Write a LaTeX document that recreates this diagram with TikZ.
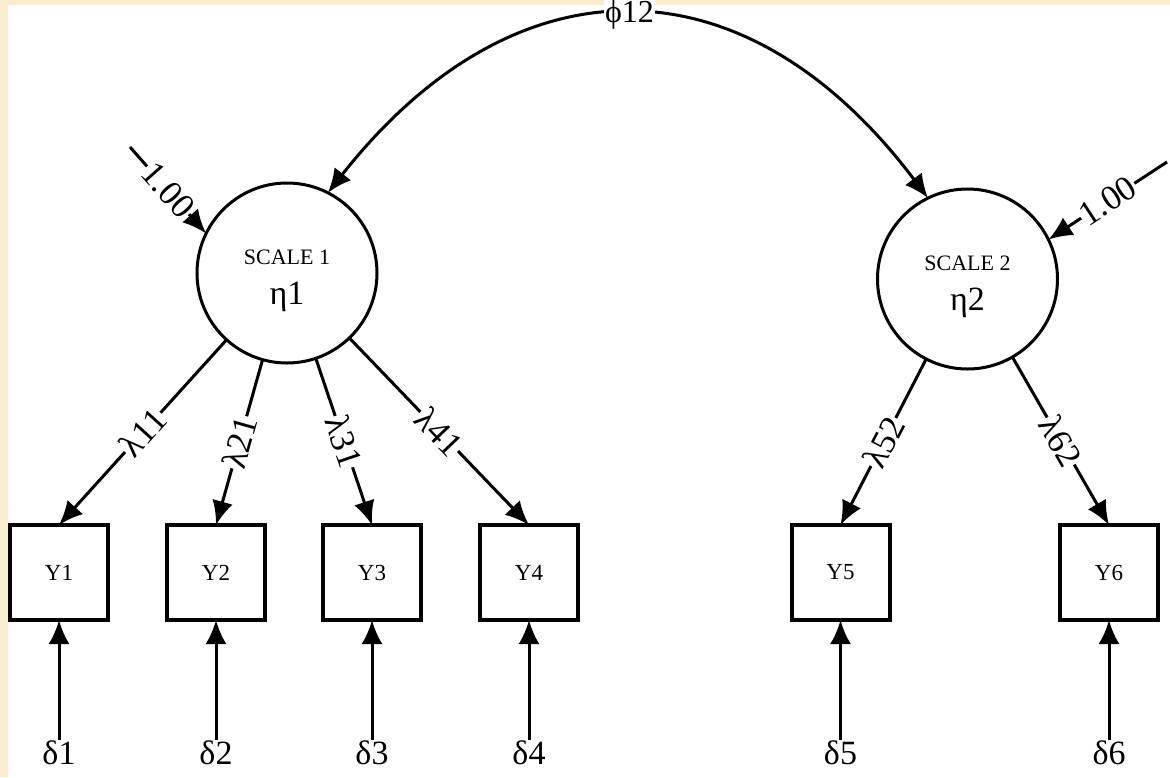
\documentclass[tikz,border=0pt]{standalone}
\usepackage{fontspec}
\setmainfont{Liberation Serif}
\usetikzlibrary{arrows.meta}
\definecolor{paper}{RGB}{250,236,206}
\begin{document}
\begin{tikzpicture}[x=1pt,y=-1pt,
  tip/.style={-{Latex[length=24pt,width=21pt]}},
  arr/.style={line width=3pt,tip},
  latent/.style={circle,draw,line width=3pt,minimum size=180pt,inner sep=0pt,outer sep=0pt},
  obs/.style={rectangle,draw,line width=4pt,minimum width=98pt,minimum height=95pt,inner sep=0pt,outer sep=0pt,font=\fontsize{23}{26}\selectfont},
  lbl/.style={midway,sloped,fill=white,inner sep=1pt,font=\fontsize{35}{38}\selectfont},
  errlbl/.style={font=\fontsize{34}{36}\selectfont,inner sep=1pt,anchor=north},
  scl/.style={font=\fontsize{22}{24}\selectfont,inner sep=0pt},
  eta/.style={font=\fontsize{34}{36}\selectfont,inner sep=0pt}
]
\useasboundingbox (0,0) rectangle (1170,777);
\fill[paper] (0,0) rectangle (1170,777);
\fill[white] (8,5) rectangle (1170,777);

% latent variables
\node[latent] (eta1) at (287,273) {};
\node[latent] (eta2) at (967.5,279) {};
\node[scl] (s1) at (287,257) {SCALE 1};
\node[eta] (h1) at (287,297) {η1};
\node[scl] (s2) at (967.5,263) {SCALE 2};
\node[eta] (h2) at (967.5,303) {η2};

% observed variables
\node[obs] (y1) at (59,572.5) {Y1};
\node[obs] (y2) at (216,572.5) {Y2};
\node[obs] (y3) at (372,572.5) {Y3};
\node[obs] (y4) at (529,572.5) {Y4};
\node[obs] (y5) at (840.5,572.5) {Y5};
\node[obs] (y6) at (1109,572.5) {Y6};

% error terms
\node[errlbl] (d1) at (59,740) {δ1};
\node[errlbl] (d2) at (216,740) {δ2};
\node[errlbl] (d3) at (372,740) {δ3};
\node[errlbl] (d4) at (529,740) {δ4};
\node[errlbl] (d5) at (840.5,740) {δ5};
\node[errlbl] (d6) at (1109,740) {δ6};

\foreach \i in {1,...,6}{
  \draw[arr] (d\i.north) -- (y\i.south);
}

% loadings
\draw[arr] (eta1) -- (y1.north) node[lbl] (l11) {λ11};
\draw[arr] (eta1) -- (y2.north) node[lbl] (l21) {λ21};
\draw[arr] (eta1) -- (y3.north) node[lbl] (l31) {λ31};
\draw[arr] (eta1) -- (y4.north) node[lbl] (l41) {λ41};
\draw[arr] (eta2) -- (y5.north) node[lbl] (l52) {λ52};
\draw[arr] (eta2) -- (y6.north) node[lbl] (l62) {λ62};

% disturbance paths
\coordinate (z1) at (130,147);
\coordinate (z2) at (1167,162);
\draw[arr] (z1) -- (eta1.154) node[lbl] (v1) {1.00};
\draw[arr] (z2) -- (eta2.26) node[lbl] (v2) {1.00};

% covariance
\draw[line width=3pt,{Latex[length=24pt,width=21pt]}-{Latex[length=24pt,width=21pt]}]
  (eta1.63) .. controls (515,-45) and (745,-45) .. (eta2.116)
  node[pos=0.5,fill=white,inner sep=1pt,font=\fontsize{32}{34}\selectfont] (phi) {ϕ12};
\end{tikzpicture}
\end{document}
